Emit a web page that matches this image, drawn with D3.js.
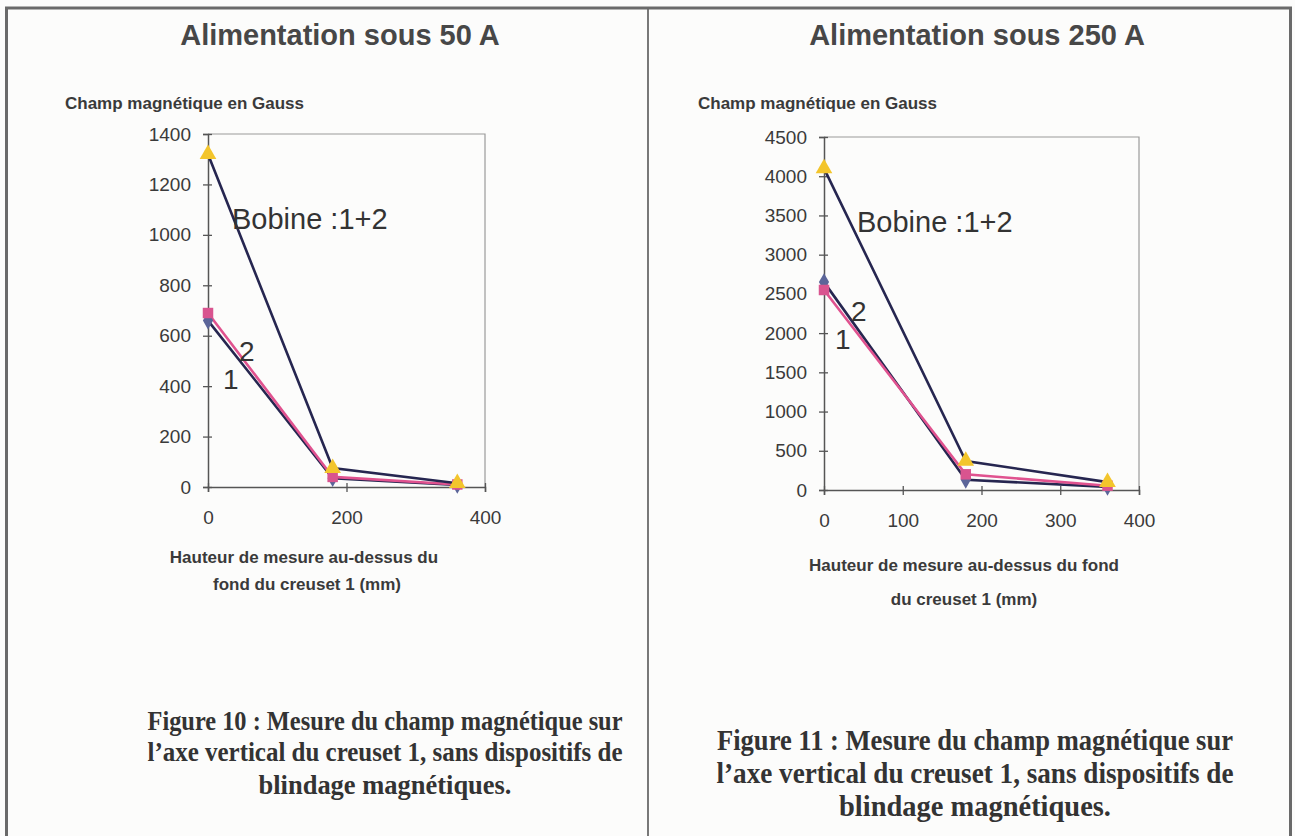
<!DOCTYPE html>
<html>
<head>
<meta charset="utf-8">
<script src="https://cdn.jsdelivr.net/npm/d3@7"></script>
<style>
  html, body { margin: 0; padding: 0; background: #fcfcfb; }
  svg { display: block; }
</style>
</head>
<body>
<svg id="chart" width="1295" height="836"></svg>
<script>
// ---- Data ----
const heights = [0, 180, 360]; // mm
const seriesNames = ["1", "2", "Bobine :1+2"];

// Figure 10 : 50 A
const coil1_50A = [660, 35, 8];
const coil2_50A = [690, 40, 10];
const coil12_50A = [1320, 75, 15];
const yTicks_50A = [0, 200, 400, 600, 800, 1000, 1200, 1400];
const xTicks_50A = [0, 200, 400];

// Figure 11 : 250 A
const coil1_250A = [2650, 130, 40];
const coil2_250A = [2550, 200, 55];
const coil12_250A = [4100, 370, 100];
const yTicks_250A = [0, 500, 1000, 1500, 2000, 2500, 3000, 3500, 4000, 4500];
const xTicks_250A = [0, 100, 200, 300, 400];

const titles = ["Alimentation sous 50 A", "Alimentation sous 250 A"];
const yAxisTitle = "Champ magnétique en Gauss";
const xAxisTitle_50A = ["Hauteur de mesure au-dessus du", "fond du creuset 1  (mm)"];
const xAxisTitle_250A = ["Hauteur de mesure au-dessus du fond", "du creuset 1 (mm)"];
const captions_50A = ["Figure 10 : Mesure du champ magnétique sur", "l\u2019axe vertical du creuset 1, sans dispositifs de", "blindage magnétiques."];
const captions_250A = ["Figure 11 : Mesure du champ magnétique sur", "l\u2019axe vertical du creuset 1, sans dispositifs de", "blindage magnétiques."];

// ---- Styling ----
const sans = "Arial, 'Liberation Sans', sans-serif";
const serif = "'Times New Roman', 'Liberation Serif', serif";
const textCol = "#3a3a3a";
const seriesStyle = [
  { line: "#262650", fill: "#5b6599", symbol: d3.symbolDiamond, size: 90 },
  { line: "#e0528f", fill: "#d9548f", symbol: d3.symbolSquare, size: 110 },
  { line: "#262650", fill: "#f3c52c", symbol: d3.symbolTriangle, size: 120 }
];

const svg = d3.select("#chart");

// outer frame
svg.append("rect").attr("x", 6.5).attr("y", 8).attr("width", 1284).attr("height", 840)
  .attr("fill", "none").attr("stroke", "#6a6a6a").attr("stroke-width", 3);
svg.append("line").attr("x1", 648).attr("x2", 648).attr("y1", 8).attr("y2", 836)
  .attr("stroke", "#6a6a6a").attr("stroke-width", 1.8);

const panels = [
  {
    series: [coil1_50A, coil2_50A, coil12_50A],
    yTicks: yTicks_50A, xTicks: xTicks_50A,
    yMax: 1400, xMax: 400,
    plot: { left: 208, right: 485, top: 134, bottom: 487 },
    title: titles[0], titleX: 340, titleY: 45,
    yTitleX: 65, yTitleY: 109,
    xTitle: xAxisTitle_50A, xTitleX: [304, 307], xTitleY: [563, 590],
    captions: captions_50A, capX: 385, capY: [730, 761, 794], capW: [475, 475, 253], capSize: 28,
    labels: [
      { text: "Bobine :1+2", x: 232, y: 229, size: 29 },
      { text: "2", x: 239, y: 361, size: 28 },
      { text: "1", x: 223, y: 389, size: 28 }
    ]
  },
  {
    series: [coil1_250A, coil2_250A, coil12_250A],
    yTicks: yTicks_250A, xTicks: xTicks_250A,
    yMax: 4500, xMax: 400,
    plot: { left: 824, right: 1139, top: 137, bottom: 490 },
    title: titles[1], titleX: 977, titleY: 45,
    yTitleX: 698, yTitleY: 109,
    xTitle: xAxisTitle_250A, xTitleX: [964, 964], xTitleY: [571, 605],
    captions: captions_250A, capX: 975, capY: [750, 783, 816], capW: [516, 517, 272], capSize: 29,
    labels: [
      { text: "Bobine :1+2", x: 857, y: 232, size: 29 },
      { text: "2", x: 851, y: 321, size: 28 },
      { text: "1", x: 835, y: 349, size: 28 }
    ]
  }
];

panels.forEach(p => {
  const g = svg.append("g");
  const x = d3.scaleLinear().domain([0, p.xMax]).range([p.plot.left, p.plot.right]);
  const y = d3.scaleLinear().domain([0, p.yMax]).range([p.plot.bottom, p.plot.top]);

  // title
  g.append("text").attr("x", p.titleX).attr("y", p.titleY).attr("text-anchor", "middle")
    .attr("font-family", sans).attr("font-weight", "bold").attr("font-size", 29)
    .attr("fill", "#474747").text(p.title);

  // y axis title
  g.append("text").attr("x", p.yTitleX).attr("y", p.yTitleY)
    .attr("font-family", sans).attr("font-weight", "bold").attr("font-size", 17)
    .attr("fill", textCol).text(yAxisTitle);

  // plot frame (top & right)
  g.append("path")
    .attr("d", `M${p.plot.left},${p.plot.top}H${p.plot.right}V${p.plot.bottom}`)
    .attr("fill", "none").attr("stroke", "#9a9a9a").attr("stroke-width", 1.2);

  // y axis
  const yAxis = g.append("g").attr("transform", `translate(${p.plot.left},0)`)
    .call(d3.axisLeft(y).tickValues(p.yTicks).tickSize(5).tickPadding(12).tickFormat(d3.format("d")));
  yAxis.select(".domain").attr("stroke", "#555").attr("stroke-width", 1.5);
  yAxis.selectAll(".tick line").attr("x1", 4).attr("stroke", "#555").attr("stroke-width", 1.3);
  yAxis.selectAll(".tick text").attr("font-family", sans).attr("font-size", 19).attr("fill", textCol);

  // x axis
  const xAxis = g.append("g").attr("transform", `translate(0,${p.plot.bottom})`)
    .call(d3.axisBottom(x).tickValues(p.xTicks).tickSize(5).tickPadding(19).tickFormat(d3.format("d")));
  xAxis.select(".domain").attr("stroke", "#555").attr("stroke-width", 1.5);
  xAxis.selectAll(".tick line").attr("y1", -4).attr("stroke", "#555").attr("stroke-width", 1.3);
  xAxis.selectAll(".tick text").attr("font-family", sans).attr("font-size", 19).attr("fill", textCol);

  // x axis title
  p.xTitle.forEach((t, i) => {
    g.append("text").attr("x", p.xTitleX[i]).attr("y", p.xTitleY[i]).attr("text-anchor", "middle")
      .attr("font-family", sans).attr("font-weight", "bold").attr("font-size", 17)
      .attr("fill", textCol).text(t);
  });

  // lines
  const line = d3.line().x((d, i) => x(heights[i])).y(d => y(d));
  p.series.forEach((s, k) => {
    g.append("path").datum(s).attr("d", line).attr("fill", "none")
      .attr("stroke", seriesStyle[k].line).attr("stroke-width", 2.6);
  });
  // markers
  p.series.forEach((s, k) => {
    g.selectAll(null).data(s).enter().append("path")
      .attr("d", d3.symbol().type(seriesStyle[k].symbol).size(seriesStyle[k].size))
      .attr("transform", (d, i) => `translate(${x(heights[i])},${y(d)})`)
      .attr("fill", seriesStyle[k].fill);
  });

  // series labels
  p.labels.forEach(l => {
    g.append("text").attr("x", l.x).attr("y", l.y)
      .attr("font-family", sans).attr("font-size", l.size).attr("fill", "#333").text(l.text);
  });

  // caption
  p.captions.forEach((t, i) => {
    g.append("text").attr("x", p.capX).attr("y", p.capY[i]).attr("text-anchor", "middle")
      .attr("font-family", serif).attr("font-weight", "bold").attr("font-size", p.capSize)
      .attr("textLength", p.capW[i]).attr("lengthAdjust", "spacingAndGlyphs")
      .attr("fill", "#333").text(t);
  });
});
</script>
</body>
</html>
